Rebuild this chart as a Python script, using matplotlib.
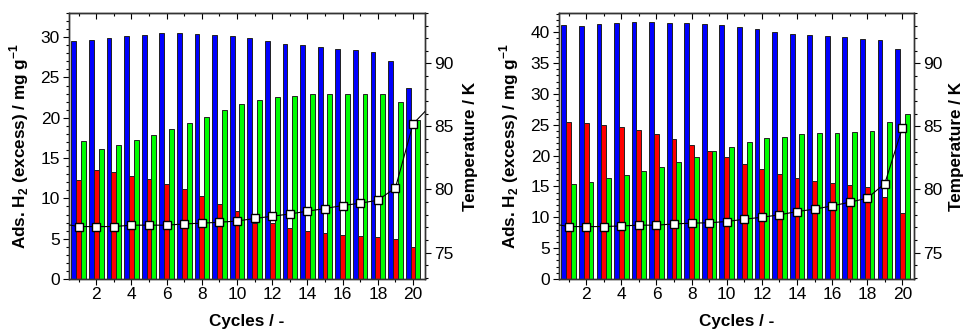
import matplotlib
matplotlib.use("Agg")
import matplotlib.pyplot as plt
import numpy as np
from matplotlib.ticker import MultipleLocator

plt.rcParams['font.family'] = ['Liberation Sans', 'DejaVu Sans']
plt.rcParams['mathtext.fontset'] = 'custom'
plt.rcParams['mathtext.rm'] = 'Liberation Sans'
plt.rcParams['mathtext.bf'] = 'Liberation Sans:bold'

cycles = list(range(1, 21))

# Left panel
left_blue = [29.47, 29.67, 29.96, 30.17, 30.33, 30.46, 30.46, 30.42, 30.33, 30.17,
             29.88, 29.55, 29.2, 29.0, 28.8, 28.55, 28.4, 28.2, 27.06, 23.75]
left_red = [12.28, 13.49, 13.23, 12.78, 12.37, 11.83, 11.12, 10.26, 9.30, 8.39,
            6.99, 6.9, 6.29, 5.96, 5.67, 5.46, 5.33, 5.2, 4.96, 4.0]
left_green = [17.08, 16.13, 16.67, 17.29, 17.9, 18.57, 19.3, 20.1, 20.93, 21.67,
              22.17, 22.54, 22.75, 22.95, 23.0, 22.95, 23.0, 22.9, 22.0, 19.7]
left_temp_cycles = [0] + cycles + [21]
left_temp = [77.3, 77.06, 77.06, 77.06, 77.17, 77.17, 77.17, 77.27, 77.33, 77.4, 77.5,
             77.7, 77.88, 78.06, 78.28, 78.49, 78.73, 78.91, 79.15, 80.13, 85.2, 86.65]

# Right panel
right_blue = [41.08, 41.03, 41.3, 41.46, 41.57, 41.62, 41.5, 41.46, 41.35, 41.13,
              40.8, 40.43, 40.1, 39.73, 39.5, 39.3, 39.14, 38.87, 38.76, 37.3]
right_red = [25.48, 25.2, 24.99, 24.6, 24.07, 23.43, 22.62, 21.7, 20.67, 19.7,
             18.62, 17.76, 17.06, 16.36, 15.92, 15.55, 15.22, 14.95, 13.33, 10.63]
right_green = [15.44, 15.7, 16.3, 16.79, 17.49, 18.19, 18.9, 19.7, 20.67, 21.37,
               22.13, 22.78, 23.05, 23.43, 23.59, 23.7, 23.86, 23.9, 25.37, 26.67]
right_temp_cycles = [0] + cycles
right_temp = [77.3, 77.06, 77.06, 77.06, 77.11, 77.17, 77.17, 77.27, 77.33, 77.36, 77.46,
              77.64, 77.8, 77.99, 78.25, 78.44, 78.7, 78.99, 79.31, 80.47, 84.89]

fig = plt.figure(figsize=(9.63, 3.31), dpi=100)
axL = fig.add_axes([69/963, 1-279/331, (425-69)/963, (279-13)/331])
axR = fig.add_axes([559/963, 1-279/331, (914.3-559)/963, (279-13)/331])

bw = 0.275
colors = ['#0000FF', '#FF0000', '#00FF00']
ylabel = r'Ads. H$_\mathbf{2}$ (excess) / mg g$^\mathbf{-1}$'
FS_T = 12.5
FS_L = 12.3

def panel(ax, blue, red, green, tc, temp, ymax, lblx, rlblx):
    x = np.array(cycles)
    for off, vals, c in zip([-bw, 0, bw], [blue, red, green], colors):
        ax.bar(x + off, vals, width=bw, color=c, edgecolor='#222222', linewidth=0.7, zorder=2)
    ax.set_xlim(0.45, 20.68)
    ax.set_ylim(0, ymax)
    ax.xaxis.set_major_locator(MultipleLocator(2))
    ax.xaxis.set_minor_locator(MultipleLocator(1))
    ax.yaxis.set_major_locator(MultipleLocator(5))
    ax.yaxis.set_minor_locator(MultipleLocator(1))
    ax.tick_params(axis='x', which='both', direction='out', top=False, labelsize=FS_T, pad=1.5)
    ax.tick_params(axis='x', which='major', length=4, width=0.8)
    ax.tick_params(axis='x', which='minor', length=2.5, width=0.8)
    ax.tick_params(axis='y', which='major', direction='out', length=4, width=0.8, labelsize=FS_T, pad=2.5)
    ax.tick_params(axis='y', which='minor', direction='out', length=2.5, width=0.8)
    ax.set_xlabel('Cycles / -', fontsize=FS_L, fontweight='bold', labelpad=9)
    ax.set_ylabel(ylabel, fontsize=FS_L, fontweight='bold')
    ax.yaxis.set_label_coords(lblx, 0.5)
    sec = ax.secondary_xaxis('top')
    sec.xaxis.set_major_locator(MultipleLocator(2))
    sec.xaxis.set_minor_locator(MultipleLocator(1))
    sec.tick_params(axis='x', which='major', direction='in', length=4, width=0.8, labeltop=False)
    sec.tick_params(axis='x', which='minor', direction='in', length=2.5, width=0.8)
    for s in ax.spines.values():
        s.set_linewidth(1.0)
        s.set_color('#333333')
    ax2 = ax.twinx()
    ax2.plot(tc, temp, color='black', linewidth=0.8, marker='s', markersize=5.5,
             markerfacecolor='white', markeredgecolor='black', markeredgewidth=1.0, zorder=5)
    ax2.set_ylim(72.9, 94)
    ax2.set_xlim(0.45, 20.68)
    ax2.yaxis.set_major_locator(MultipleLocator(5))
    ax2.yaxis.set_minor_locator(MultipleLocator(1))
    ax2.tick_params(axis='y', which='major', direction='out', length=4, width=0.8, labelsize=FS_T, pad=2.5)
    ax2.tick_params(axis='y', which='minor', direction='out', length=2.5, width=0.8)
    ax2.set_ylabel('Temperature / K', fontsize=FS_L, fontweight='bold')
    ax2.yaxis.set_label_coords(rlblx, 0.5)
    for s in ax2.spines.values():
        s.set_linewidth(1.0)
        s.set_color('#333333')
    return ax2

panel(axL, left_blue, left_red, left_green, left_temp_cycles, left_temp, 33.0, -0.107, 1.108)
panel(axR, right_blue, right_red, right_green, right_temp_cycles, right_temp, 43.1, -0.107, 1.097)

fig.savefig('out.png', dpi=100)
